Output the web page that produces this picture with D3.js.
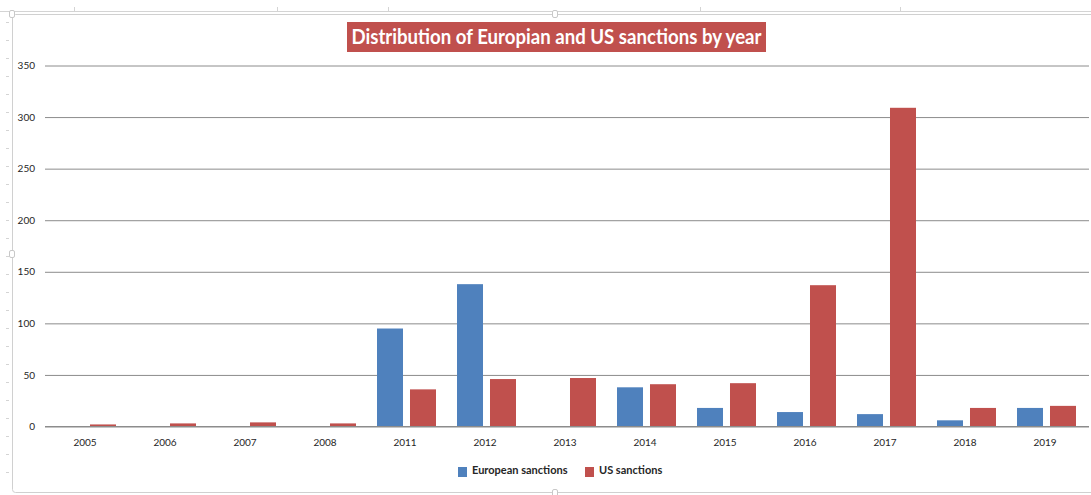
<!DOCTYPE html>
<html>
<head>
<meta charset="utf-8">
<script src="https://cdn.jsdelivr.net/npm/d3@7"></script>
<style>
    body { margin: 0; background: #fff; }
    svg { display: block; }
    text { font-family: Lato, "Open Sans", sans-serif; }
</style>
</head>
<body>
<script>
var years = ["2005", "2006", "2007", "2008", "2011", "2012", "2013", "2014", "2015", "2016", "2017", "2018", "2019"];
var european = [0, 0, 0, 0, 95, 138, 0, 38, 18, 14, 12, 6, 18];
var us = [2, 3, 4, 3, 36, 46, 47, 41, 42, 137, 309, 18, 20];
var seriesNames = ["European sanctions", "US sanctions"];
var seriesColors = ["#4F81BD", "#C0504D"];
var yTicks = [0, 50, 100, 150, 200, 250, 300, 350];

function init() {
    var w = 1091;
    var h = 495;

    var svg = d3.select("body")
        .append("svg")
        .attr("width", w)
        .attr("height", h);

    // Excel-like ruler marks and chart frame
    svg.append("line")
        .attr("x1", 0).attr("x2", w)
        .attr("y1", 11.5).attr("y2", 11.5)
        .attr("stroke", "#d4d4d4");
    [74, 277, 388, 700, 900].forEach(function (x) {
        svg.append("line")
            .attr("x1", x + 0.5).attr("x2", x + 0.5)
            .attr("y1", 7).attr("y2", 11)
            .attr("stroke", "#d4d4d4");
    });
    d3.range(22, 490, 18).forEach(function (y) {
        svg.append("line")
            .attr("x1", 6).attr("x2", 9)
            .attr("y1", y + 0.5).attr("y2", y + 0.5)
            .attr("stroke", "#d4d4d4");
    });
    svg.append("rect")
        .attr("x", 12.5).attr("y", 14.5)
        .attr("width", 1100).attr("height", 478)
        .attr("rx", 3)
        .attr("fill", "#fff")
        .attr("stroke", "#d0d0d0");
    // frame handles
    [[12, 14], [555, 14], [12, 254], [555, 493]].forEach(function (p) {
        svg.append("rect")
            .attr("x", p[0] - 2.5).attr("y", p[1] - 3.5)
            .attr("width", 5).attr("height", 7)
            .attr("rx", 1.5)
            .attr("fill", "#fff")
            .attr("stroke", "#c8c8c8");
    });

    // scales
    var xScale = d3.scaleBand()
        .domain(years)
        .range([45, 1085])
        .paddingInner(0);

    var xInner = d3.scaleBand()
        .domain(seriesNames)
        .range([12, 71])
        .paddingInner(0.212);

    var yScale = d3.scaleLinear()
        .domain([0, 350])
        .range([426.5, 65.5]);

    // gridlines
    var yAxis = d3.axisLeft(yScale)
        .tickValues(yTicks)
        .tickSize(-(1089 - 45))
        .tickPadding(10)
        .tickFormat(d3.format("d"));

    var gy = svg.append("g")
        .attr("transform", "translate(45,0)")
        .call(yAxis);
    gy.select(".domain").remove();
    gy.selectAll(".tick line")
        .attr("stroke", "#8c8c8c")
        .attr("stroke-width", 1);
    gy.selectAll(".tick text")
        .attr("fill", "#262626")
        .attr("font-size", "10px");

    // bars
    var rows = years.map(function (y, i) {
        return { year: y, values: [european[i], us[i]] };
    });

    var groups = svg.selectAll("g.year")
        .data(rows)
        .enter()
        .append("g")
        .attr("class", "year")
        .attr("transform", function (d) {
            return "translate(" + xScale(d.year) + ",0)";
        });

    groups.selectAll("rect")
        .data(function (d) {
            return d.values.map(function (v, k) {
                return { name: seriesNames[k], value: v, color: seriesColors[k] };
            });
        })
        .enter()
        .filter(function (d) { return d.value > 0; })
        .append("rect")
        .attr("x", function (d) { return xInner(d.name); })
        .attr("y", function (d) { return yScale(d.value); })
        .attr("width", xInner.bandwidth())
        .attr("height", function (d) { return yScale(0) - yScale(d.value); })
        .attr("fill", function (d) { return d.color; });

    // x axis
    var xAxis = d3.axisBottom(xScale)
        .tickSize(0)
        .tickPadding(12);

    var gx = svg.append("g")
        .attr("transform", "translate(0," + yScale(0) + ")")
        .call(xAxis);
    gx.select(".domain")
        .attr("d", "M45,0H1089")
        .attr("stroke", "#8c8c8c");
    gx.selectAll(".tick text")
        .attr("fill", "#262626")
        .attr("font-size", "10px");

    // title
    svg.append("rect")
        .attr("x", 347).attr("y", 22)
        .attr("width", 419).attr("height", 30)
        .attr("fill", "#C0504D");
    svg.append("text")
        .attr("x", 556.5)
        .attr("y", 44)
        .attr("text-anchor", "middle")
        .attr("fill", "#fff")
        .attr("font-weight", "bold")
        .attr("font-size", "20px")
        .attr("textLength", 410)
        .attr("lengthAdjust", "spacingAndGlyphs")
        .text("Distribution of Europian and US sanctions by year");

    // legend
    var legendX = [458, 585];
    seriesNames.forEach(function (name, k) {
        svg.append("rect")
            .attr("x", legendX[k]).attr("y", 467)
            .attr("width", 9).attr("height", 10)
            .attr("fill", seriesColors[k]);
        svg.append("text")
            .attr("x", legendX[k] + 14)
            .attr("y", 474)
            .attr("fill", "#262626")
            .attr("font-size", "11px")
            .attr("font-weight", "bold")
            .text(name);
    });
}

window.onload = init;
</script>
</body>
</html>
